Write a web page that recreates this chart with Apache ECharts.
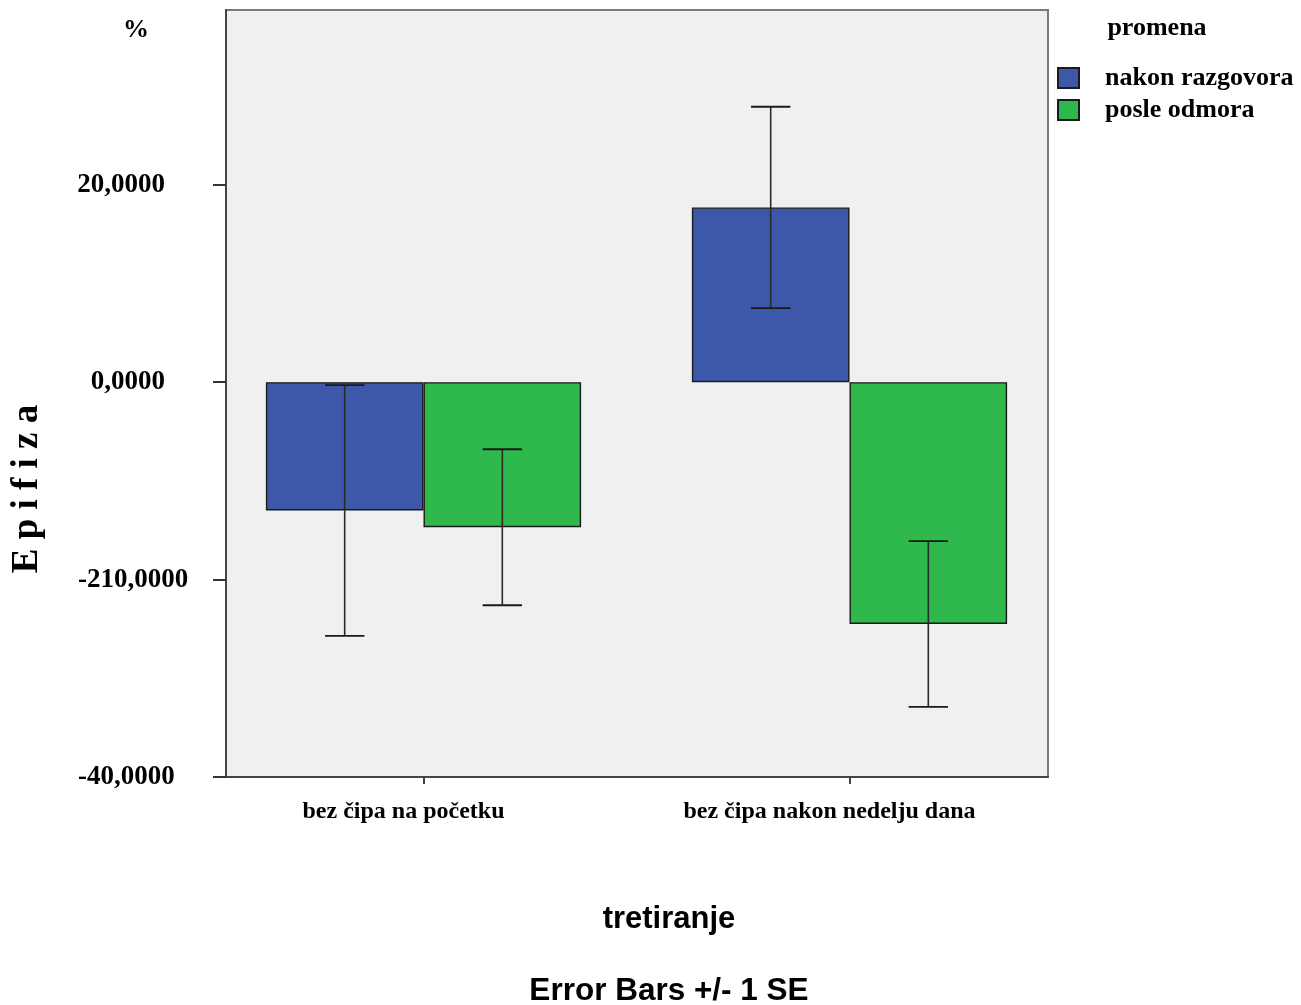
<!DOCTYPE html>
<html>
<head>
<meta charset="utf-8">
<script src="https://cdn.jsdelivr.net/npm/echarts@6/dist/echarts.min.js"></script>
<style>html,body{margin:0;padding:0;background:#fff}#c{width:1301px;height:1005px}</style>
</head>
<body>
<div id="c"></div>
<script>
// ---- data ----
const categories = ['bez čipa na početku', 'bez čipa nakon nedelju dana'];
const seriesNames = ['nakon razgovora', 'posle odmora'];
const meanRazgovor = [-13.0, 17.7];
const seRazgovor = [12.7, 10.2];
const meanOdmor = [-14.7, -24.5];
const seOdmor = [7.9, 8.4];
const tickValues = [-40, -20, 0, 20];
const tickLabels = ['-40,0000', '-210,0000', '0,0000', '20,0000'];
const yMin = -40, yMax = 37.7;

// ---- style ----
const BLUE = '#3d58a9', GREEN = '#2fb84b';
const SERIF = '"Liberation Serif", "Times New Roman", serif';
const SANS = '"Liberation Sans", Arial, sans-serif';
const BAR_PCT = 0.37;

const chart = echarts.init(document.getElementById('c'), null, {renderer: 'canvas'});

function errorSeries(name, means, ses, sign) {
  return {
    type: 'custom', name: name + ' SE', xAxisIndex: 1, yAxisIndex: 1, z: 10,
    silent: true, legendHoverLink: false,
    data: means.map((m, i) => [i, m, ses[i]]),
    renderItem: function (params, api) {
      const c = api.value(0), m = api.value(1), s = api.value(2);
      const band = api.size([1, 0])[0];
      const bw = band * BAR_PCT;
      const top = api.coord([c, m + s]);
      const bot = api.coord([c, m - s]);
      const x = top[0] + sign * bw / 2;
      const cap = bw * 0.125;
      const st = {stroke: '#1a1a1a', lineWidth: 1.8};
      return {type: 'group', children: [
        {type: 'line', shape: {x1: x, y1: top[1], x2: x, y2: bot[1]}, style: {stroke: '#2a2a2a', lineWidth: 1.6}},
        {type: 'line', shape: {x1: x - cap, y1: top[1], x2: x + cap, y2: top[1]}, style: st},
        {type: 'line', shape: {x1: x - cap, y1: bot[1], x2: x + cap, y2: bot[1]}, style: st}
      ]};
    }
  };
}

const option = {
  backgroundColor: '#ffffff',
  animation: false,
  grid: [
    {left: 226, top: 10, width: 822, height: 767, show: true, backgroundColor: '#f0f0f0', borderColor: '#7a7a7a', borderWidth: 2},
    {left: 210.5, top: 10, width: 852, height: 767, show: false}
  ],
  xAxis: [
    {gridIndex: 0, type: 'value', min: 0, max: 1, axisLabel: {show: false}, axisTick: {show: false}, splitLine: {show: false},
     axisLine: {show: true, onZero: false, lineStyle: {color: '#444', width: 2}}},
    {gridIndex: 1, type: 'category', data: categories,
     axisLine: {show: false, onZero: false},
     axisTick: {show: true, alignWithLabel: true, length: 7, lineStyle: {color: '#444', width: 2}},
     axisLabel: {margin: 23, padding: [0, 40, 0, 0], color: '#000', fontFamily: SERIF, fontWeight: 'bold', fontSize: 24}}
  ],
  yAxis: [
    {gridIndex: 0, type: 'value', min: yMin, max: yMax, splitLine: {show: false},
     axisLine: {show: true, onZero: false, lineStyle: {color: '#444', width: 2}},
     axisTick: {show: true, length: 13, customValues: tickValues, lineStyle: {color: '#333', width: 2}},
     axisLabel: {
       customValues: tickValues, align: 'left', margin: 148,
       color: '#000', fontFamily: SERIF, fontWeight: 'bold', fontSize: 27,
       formatter: function (v) {
         const i = tickValues.indexOf(v);
         if (i < 0) return '';
         const t = tickLabels[i];
         return t.charAt(0) === '-' ? '{n|' + t + '}' : '{p|' + t + '}';
       },
       rich: {
         n: {fontFamily: SERIF, fontWeight: 'bold', fontSize: 27, color: '#000'},
         p: {fontFamily: SERIF, fontWeight: 'bold', fontSize: 27, color: '#000', width: 87, align: 'right'}
       }
     }},
    {gridIndex: 1, type: 'value', min: yMin, max: yMax, show: false, splitLine: {show: false}}
  ],
  legend: {
    orient: 'vertical', left: 1057, top: 65, padding: 0, itemWidth: 21, itemHeight: 20, itemGap: 6,
    icon: 'rect', data: seriesNames,
    textStyle: {fontFamily: SERIF, fontWeight: 'bold', fontSize: 26, color: '#000', padding: [0, 0, 0, 21]}
  },
  graphic: [
    {type: 'text', x: 136, y: 30, style: {text: '%', font: 'bold 26px ' + SERIF, fill: '#000', textAlign: 'center', textVerticalAlign: 'middle'}},
    {type: 'text', x: 1157, y: 28, style: {text: 'promena', font: 'bold 26px ' + SERIF, fill: '#000', textAlign: 'center', textVerticalAlign: 'middle'}},
    {type: 'text', x: 27, y: 489, rotation: Math.PI / 2, style: {text: 'E p i f i z a', font: 'bold 37px ' + SERIF, fill: '#000', textAlign: 'center', textVerticalAlign: 'middle'}},
    {type: 'text', x: 669, y: 919, style: {text: 'tretiranje', font: 'bold 31px ' + SANS, fill: '#000', textAlign: 'center', textVerticalAlign: 'middle'}},
    {type: 'text', x: 669, y: 991, style: {text: 'Error Bars +/- 1 SE', font: 'bold 31.5px ' + SANS, fill: '#000', textAlign: 'center', textVerticalAlign: 'middle'}}
  ],
  series: [
    {type: 'bar', name: seriesNames[0], xAxisIndex: 1, yAxisIndex: 1, data: meanRazgovor,
     barWidth: (BAR_PCT * 100) + '%', barGap: '0%',
     itemStyle: {color: BLUE, borderColor: '#1a1a1a', borderWidth: 1.4}},
    {type: 'bar', name: seriesNames[1], xAxisIndex: 1, yAxisIndex: 1, data: meanOdmor,
     barWidth: (BAR_PCT * 100) + '%', barGap: '0%',
     itemStyle: {color: GREEN, borderColor: '#1a1a1a', borderWidth: 1.4}},
    errorSeries(seriesNames[0], meanRazgovor, seRazgovor, -1),
    errorSeries(seriesNames[1], meanOdmor, seOdmor, 1)
  ]
};
chart.setOption(option);
</script>
</body>
</html>
